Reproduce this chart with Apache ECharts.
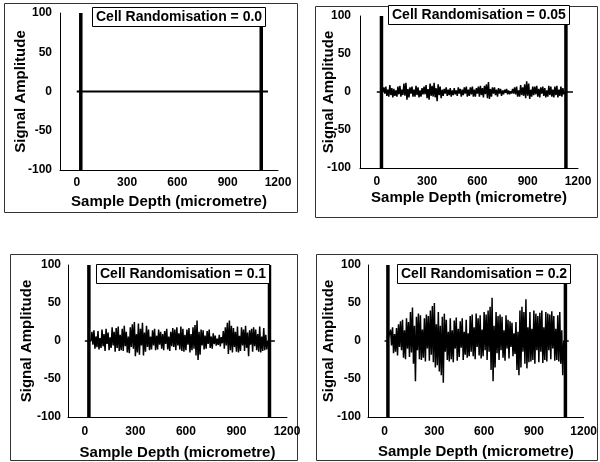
<!DOCTYPE html>
<html>
<head>
<meta charset="utf-8">
<script src="https://cdn.jsdelivr.net/npm/echarts@6/dist/echarts.min.js"></script>
<style>
  html, body { margin: 0; padding: 0; background: #fff; }
  #chart { width: 600px; height: 462px; }
</style>
</head>
<body>
<div id="chart"></div>
<script>
// ---------- data ----------
const panelTitles = [
  'Cell Randomisation = 0.0',
  'Cell Randomisation = 0.05',
  'Cell Randomisation = 0.1',
  'Cell Randomisation = 0.2'
];
const xAxisName = 'Sample Depth (micrometre)';
const yAxisName = 'Signal Amplitude';
const xTickLabels = [0, 300, 600, 900, 1200];
const yTickLabels = [-100, -50, 0, 50, 100];

// surface echoes (front and back face of the sample): depth and saturated amplitude range
const p1EchoDepth = [24, 1100];
const p2EchoDepth = [28, 1128];
const p3EchoDepth = [24, 1096];
const p4EchoDepth = [20, 1090];
const echoRange = [-100, 100];

const SAMPLE_STEP = 6;

// Panel 1 (no randomisation): flat trace
const p1Depth = [0, 1140];
const p1Amplitude = [0, 0];

// Panel 2 (randomisation 0.05)
const p2Amplitude = [
  0, 0, 0, 0, 0, 0, 0,
  6, -2, 7, -5, 3, -6, 9, -4, 5, -7,
  4, -5, 2, -6, 7, -3, 8, -6, 3, -4,
  11, -5, 12, -10, 4, -7, 6, -2, 7, -6,
  3, -6, 8, -4, 6, -7, 2, -6, 5, -3,
  7, -3, 9, -8, 4, -10, 11, -5, 8, -6,
  12, -7, 5, -12, 10, -4, 7, -8, 3, -5,
  4, -2, 6, -5, 3, -4, 5, -6, 2, -4,
  5, -3, 2, -5, 6, -2, 4, -6, 3, -4,
  6, -2, 7, -6, 3, -5, 6, -3, 7, -6,
  3, -6, 5, -2, 7, -6, 8, -4, 5, -7,
  8, -3, 10, -8, 13, -9, 4, -6, 6, -2,
  6, -4, 3, -6, 5, -2, 4, -5, 2, -3,
  3, -1, 4, -3, 2, -3, 1, -2, 4, -2,
  6, -3, 7, -6, 2, -6, 9, -4, 6, -5,
  10, -8, 14, -5, 11, -9, 3, -6, 7, -4,
  7, -3, 8, -6, 4, -7, 6, -2, 7, -5,
  5, -7, 2, -6, 8, -4, 7, -6, 3, -7,
  7, -4, 8, -7, 3, -5, 7, -6, 5, -3,
  0, 0, 0, 0, 0, 0, 0, 0, 0
];

// Panel 3 (randomisation 0.1)
const p3Amplitude = [
  0, 0, 0, 0, 0, 0, 0,
  12, -5, 14, -10, 6, -8, 13, -11, 4, -9,
  15, -7, 9, -13, 16, -4, 11, -12, 5, -9,
  18, -6, 12, -14, 17, -9, 19, -13, 8, -12,
  16, -13, 20, -7, 12, -15, 6, -16, 18, -8,
  22, -10, 25, -20, 9, -15, 23, -18, 16, -6,
  24, -19, 11, -14, 20, -8, 15, -12, 6, -11,
  14, -6, 16, -12, 7, -11, 15, -5, 12, -10,
  9, -12, 13, -4, 16, -11, 6, -13, 12, -7,
  17, -8, 15, -12, 18, -6, 10, -11, 19, -13,
  16, -14, 8, -12, 15, -5, 17, -15, 9, -12,
  18, -10, 21, -19, 27, -25, 12, -18, 15, -6,
  14, -11, 7, -10, 13, -4, 15, -9, 6, -10,
  10, -4, 7, -6, 3, -5, 8, -7, 5, -3,
  13, -10, 18, -6, 24, -17, 27, -12, 20, -15,
  17, -8, 12, -14, 19, -15, 7, -13, 18, -6,
  15, -13, 20, -9, 11, -20, 14, -5, 16, -14,
  18, -7, 15, -12, 9, -14, 19, -15, 6, -13,
  17, -12, 8, -11,
  0, 0, 0, 0, 0, 0, 0, 0
];

// Panel 4 (randomisation 0.2)
const p4Amplitude = [
  0, 0, 0, 0, 0, 0,
  15, -6, 18, -16, 9, -14, 17, -19, 22, -8,
  26, -12, 28, -22, 14, -24, 30, -10, 25, -21,
  38, -15, 44, -30, 20, -53, 32, -12, 36, -24,
  34, -25, 15, -22, 30, -27, 35, -10, 33, -26,
  40, -18, 46, -28, 50, -35, 22, -32, 38, -40,
  20, -45, 32, -55, 36, -14, 28, -25, 12, -27,
  30, -24, 14, -28, 27, -10, 31, -26, 16, -21,
  26, -9, 30, -25, 12, -18, 28, -22, 10, -20,
  33, -14, 35, -20, 18, -24, 36, -8, 30, -19,
  34, -23, 15, -20, 38, -12, 35, -25, 40, -14,
  45, -38, 57, -53, 20, -35, 38, -16, 33, -25,
  35, -12, 32, -22, 14, -26, 34, -10, 28, -23,
  26, -8, 24, -20, 10, -17, 25, -38, 12, -45,
  40, -35, 45, -14, 38, -30, 55, -36, 18, -28,
  38, -27, 16, -25, 40, -30, 36, -12, 33, -28,
  37, -14, 40, -29, 18, -25, 38, -27, 36, -12,
  35, -24, 39, -10, 33, -26, 16, -25, 34, -27,
  38, -30, 14, -45,
  0, 0, 0, 0, 0, 0
];

// ---------- build ----------
function gridPairs(amps) { return amps.map((v, i) => [i * SAMPLE_STEP, v]); }
function echoPairs(depths) {
  const out = [];
  depths.forEach(d => { out.push([d, echoRange[0]], [d, echoRange[1]], [d, '-']); });
  return out;
}
const traceData = [
  p1Depth.map((d, i) => [d, p1Amplitude[i]]),
  gridPairs(p2Amplitude),
  gridPairs(p3Amplitude),
  gridPairs(p4Amplitude)
];
const echoData = [p1EchoDepth, p2EchoDepth, p3EchoDepth, p4EchoDepth].map(echoPairs);

const FONT = '"Liberation Sans", Arial, sans-serif';
const panels = [
  { grid: { left: 60, top: 13, width: 218, height: 157 }, title: { left: 92, top: 7 }, yGap: 32, yMargin: 8, xMargin: 7, xGap: 24, box: [4, 3, 293, 209], lw: 1.8 },
  { grid: { left: 360, top: 16, width: 218, height: 152 }, title: { left: 388, top: 5 }, yGap: 24, yMargin: 9, xMargin: 8, xGap: 22, box: [315, 6, 282, 211], lw: 1.5 },
  { grid: { left: 68, top: 265, width: 219, height: 152 }, title: { left: 96, top: 264 }, yGap: 34, yMargin: 7, xMargin: 9, xGap: 28, box: [10, 254, 287, 206], lw: 1.5 },
  { grid: { left: 368, top: 265, width: 219, height: 152 }, title: { left: 397, top: 264 }, yGap: 32, yMargin: 7, xMargin: 9, xGap: 27, box: [316, 254, 281, 206], lw: 1.5 }
];

const series = [];
panels.forEach((p, i) => {
  series.push({
    type: 'line', xAxisIndex: i, yAxisIndex: i,
    data: traceData[i], showSymbol: false, symbol: 'none', clip: true,
    sampling: 'none', silent: true, z: 2,
    lineStyle: { color: '#000', width: p.lw, join: 'bevel' }
  });
  series.push({
    type: 'line', xAxisIndex: i, yAxisIndex: i,
    data: echoData[i], showSymbol: false, symbol: 'none', clip: true,
    connectNulls: false, silent: true, z: 3,
    lineStyle: { color: '#000', width: 3.5, cap: 'butt' }
  });
});

const option = {
  animation: false,
  backgroundColor: '#fff',
  textStyle: { fontFamily: FONT },
  title: panels.map((p, i) => ({
    text: panelTitles[i],
    left: p.title.left, top: p.title.top,
    padding: [3, 4, 3, 4],
    borderColor: '#000', borderWidth: 1, backgroundColor: '#fff',
    textStyle: { fontFamily: FONT, fontSize: 14, fontWeight: 'bold', color: '#000' }
  })),
  grid: panels.map(p => Object.assign({ containLabel: false }, p.grid)),
  xAxis: panels.map((p, i) => ({
    gridIndex: i, type: 'value', min: -100, max: 1200, interval: 100,
    name: xAxisName, nameLocation: 'middle', nameGap: p.xGap, nameMoveOverlap: false,
    nameTextStyle: { fontFamily: FONT, fontSize: 15, fontWeight: 'bold', color: '#000' },
    axisLine: { onZero: false, lineStyle: { color: '#000', width: 1 } },
    axisTick: { show: false },
    splitLine: { show: false },
    axisLabel: {
      margin: p.xMargin, fontFamily: FONT, fontSize: 12, fontWeight: 'bold', color: '#000',
      showMinLabel: true, showMaxLabel: true,
      formatter: v => (xTickLabels.indexOf(v) >= 0 ? String(v) : '')
    }
  })),
  yAxis: panels.map((p, i) => ({
    gridIndex: i, type: 'value', min: yTickLabels[0], max: yTickLabels[yTickLabels.length - 1], interval: 50,
    name: yAxisName, nameLocation: 'middle', nameGap: p.yGap, nameRotate: 90, nameMoveOverlap: false,
    nameTextStyle: { fontFamily: FONT, fontSize: 15, fontWeight: 'bold', color: '#000' },
    axisLine: { show: true, onZero: false, lineStyle: { color: '#000', width: 1 } },
    axisTick: { show: false },
    splitLine: { show: false },
    axisLabel: { margin: p.yMargin, fontFamily: FONT, fontSize: 12, fontWeight: 'bold', color: '#000' }
  })),
  series: series,
  graphic: panels.map(p => ({
    type: 'rect', silent: true, z: -1,
    shape: { x: p.box[0] + 0.5, y: p.box[1] + 0.5, width: p.box[2], height: p.box[3] },
    style: { fill: 'none', stroke: '#333', lineWidth: 1 }
  }))
};

const chart = echarts.init(document.getElementById('chart'), null, { renderer: 'canvas' });
chart.setOption(option);
</script>
</body>
</html>
